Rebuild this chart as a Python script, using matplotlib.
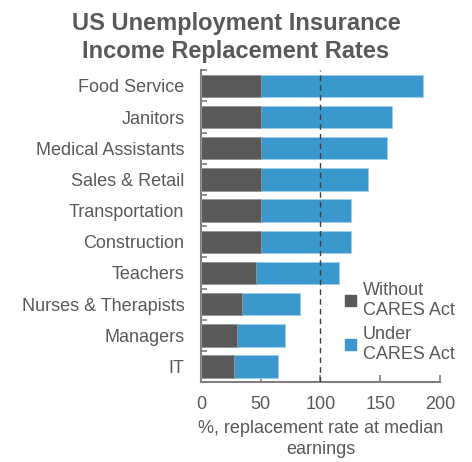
import matplotlib
matplotlib.use('Agg')
import matplotlib.pyplot as plt
from matplotlib.patches import Patch

plt.rcParams['font.family'] = ['Liberation Sans', 'DejaVu Sans']

# data, bottom to top
occupations = ['IT', 'Managers', 'Nurses & Therapists', 'Teachers', 'Construction',
               'Transportation', 'Sales & Retail', 'Medical Assistants', 'Janitors',
               'Food Service']
without_cares = [27.5, 30, 34, 46, 50, 50, 50, 50, 50, 50]
under_cares = [64.5, 70, 83, 115.5, 125.5, 125.5, 140, 155.5, 160, 185.5]

grey = '#595959'
blue = '#3b98cc'
text_col = '#595959'

fig = plt.figure(figsize=(4.72, 4.62), dpi=100)
ax = fig.add_axes([0.426, 0.173, 0.506, 0.675])

ypos = list(range(len(occupations)))
ax.barh(ypos, under_cares, height=0.72, color=blue, edgecolor='#9fd0ec', linewidth=0.6, zorder=2)
ax.barh(ypos, without_cares, height=0.72, color=grey, edgecolor='#9a9a9a', linewidth=0.6, zorder=3)
ax.axvline(100, color='#404040', linestyle=(0, (4, 3)), linewidth=1.0, zorder=4)

ax.set_xlim(0, 200)
ax.set_ylim(-0.5, len(occupations) - 0.5)
ax.set_xticks([0, 50, 100, 150, 200])
ax.set_yticks(ypos)
ax.set_yticklabels(occupations)
ax.set_yticks([y + 0.5 for y in ypos], minor=True)

ax.tick_params(axis='y', which='major', length=0, pad=12, labelsize=13, labelcolor=text_col)
ax.tick_params(axis='y', which='minor', direction='in', length=4, width=1.2, color='#7f7f7f')
ax.tick_params(axis='x', direction='in', length=5, width=1.2, color='#7f7f7f',
               pad=10, labelsize=13, labelcolor=text_col)

for s in ['top', 'right']:
    ax.spines[s].set_visible(False)
for s in ['left', 'bottom']:
    ax.spines[s].set_color('#7f7f7f')
    ax.spines[s].set_linewidth(1.5)

ax.set_xlabel('%, replacement rate at median\nearnings', fontsize=13, color=text_col,
              labelpad=5, linespacing=1.3)

handles = [Patch(color=grey), Patch(color=blue)]
ax.legend(handles, ['Without\nCARES Act', 'Under\nCARES Act'], loc='lower right',
          bbox_to_anchor=(1.13, 0.01), frameon=False, fontsize=13, labelcolor=text_col,
          handlelength=0.6, handleheight=0.6, handletextpad=0.4, labelspacing=0.4)

fig.suptitle('US Unemployment Insurance\nIncome Replacement Rates', x=0.5, y=0.975,
             fontsize=17, fontweight='bold', color=text_col, linespacing=1.3)

fig.savefig('out.png', dpi=100)
